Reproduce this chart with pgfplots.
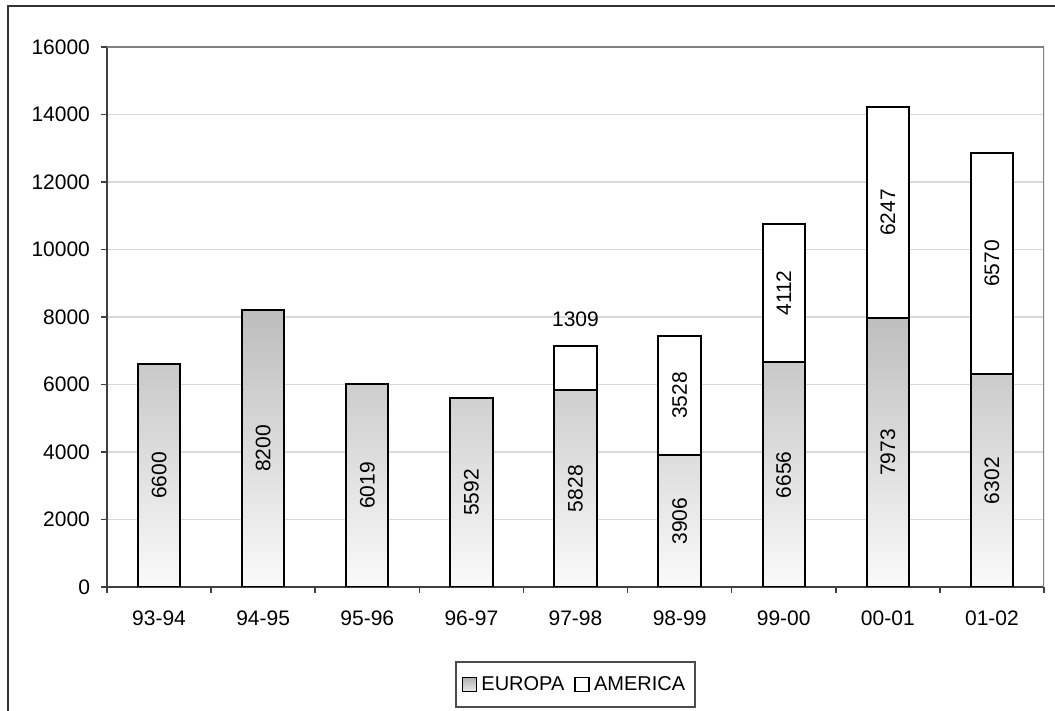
\documentclass[border=0pt]{standalone}
\usepackage{pgfplots}
\pgfplotsset{compat=1.18}
\usepackage{pgfplotstable}
\usepackage{fontspec}
\setmainfont{Liberation Sans}

% season, Europe, America
\pgfplotstableread{
x  label eu   am
0  93-94 6600 0
1  94-95 8200 0
2  95-96 6019 0
3  96-97 5592 0
4  97-98 5828 1309
5  98-99 3906 3528
6  99-00 6656 4112
7  00-01 7973 6247
8  01-02 6302 6570
}\datatable

\newcommand\chartfont{\fontsize{10.5}{12}\selectfont}

\pgfplotsset{
  frame geometry/.style={
    at={(53.5pt,62pt)}, anchor=south west,
    scale only axis, width=468.5pt, height=270pt,
    xmin=-0.5, xmax=8.5, ymin=0, ymax=16000,
  },
  seg labels/.style={
    only marks, mark=none,
    point meta=explicit, nodes near coords,
    every node near coord/.style={text=black, anchor=center, rotate=90, font=\chartfont},
  },
}

\begin{document}
\begin{tikzpicture}[font=\chartfont]
\useasboundingbox (0,0) rectangle (527.5pt,355.5pt);
\draw[black!80, line width=1pt] (4pt,0) -- (4pt,352.5pt) -- (527.5pt,352.5pt);
\begin{axis}[
  frame geometry,
  ybar stacked, bar width=21.15pt,
  xtick=data, xticklabels from table={\datatable}{label},
  minor xtick={-0.5,0.5,...,8.5},
  ytick={0,2000,...,16000},
  scaled y ticks=false,
  yticklabel={\chartfont\pgfmathprintnumber{\tick}},
  axis x line*=bottom, axis y line*=left,
  axis line style={black!75, line width=1pt},
  tick align=outside,
  major tick length=3pt, minor tick length=3pt,
  tick style={black!75, line width=0.8pt},
  major x tick style={draw=none},
  ymajorgrids, major grid style={black!15, line width=0.8pt},
  /pgf/number format/assume math mode=true,
  /pgf/number format/1000 sep={},
  /pgf/number format/fixed,
  tick label style={font=\chartfont},
  yticklabel style={xshift=-2pt},
  xticklabel style={yshift=-5.5pt},
  legend columns=2,
  legend style={at={(0.5,-0.1806)}, anchor=center, draw=black!70,
    line width=0.7pt, inner xsep=3pt, inner ysep=5pt, font=\fontsize{10}{12}\selectfont,
    /tikz/every even column/.append style={column sep=3pt}},
]
\addplot[draw=black, line width=1pt, top color=black!26, bottom color=black!2,
  legend image code/.code={\draw[draw=black, line width=0.8pt, top color=black!30, bottom color=black!8] (0pt,-3.5pt) rectangle (7pt,3.5pt);}]
  table[x=x, y=eu] {\datatable};
\addplot[fill=white, draw=black, line width=1pt,
  legend image code/.code={\draw[draw=black, line width=0.8pt, fill=white] (0pt,-3.5pt) rectangle (7pt,3.5pt);}]
  table[x=x, y=am] {\datatable};
\legend{EUROPA, AMERICA}
\draw[black!50, line width=0.75pt] (rel axis cs:0,1) -- (rel axis cs:1,1) -- (rel axis cs:1,0);
\end{axis}
% value labels on the same frame, centred in each segment
\begin{axis}[frame geometry, hide axis, clip=false,
  /pgf/number format/assume math mode=true,
  /pgf/number format/1000 sep={}]
\addplot[seg labels] table[x=x, y expr=\thisrow{eu}/2, meta=eu] {\datatable};
\addplot[seg labels, skip coords between index={0}{5}]
  table[x=x, y expr=\thisrow{eu}+\thisrow{am}/2, meta=am] {\datatable};
% the short 97-98 segment is labelled above its bar
\addplot[seg labels, skip coords between index={0}{4}, skip coords between index={5}{9},
  every node near coord/.style={text=black, anchor=south, yshift=6pt, font=\chartfont}]
  table[x=x, y expr=\thisrow{eu}+\thisrow{am}, meta=am] {\datatable};
\end{axis}
\end{tikzpicture}
\end{document}
